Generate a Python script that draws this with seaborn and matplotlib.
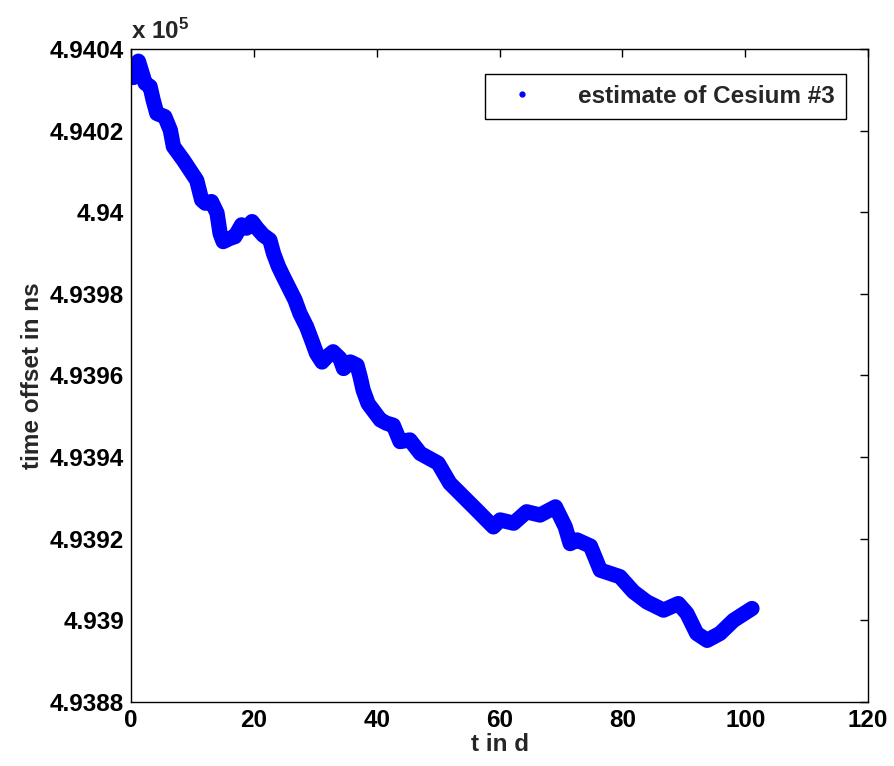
import numpy as np
import pandas as pd
import matplotlib
matplotlib.use("Agg")
import matplotlib.pyplot as plt
from matplotlib.lines import Line2D
import seaborn as sns

# data (t in days, time offset in ns)
t_days = [0.4, 0.9, 1.2, 2.3, 3.1, 3.6, 4.2, 5.5, 6.4, 6.9, 8.5, 9.6, 10.7, 11.5,
          12.1, 13.1, 14.0, 14.5, 15.0, 16.1, 16.9, 18.0, 18.8, 19.7, 20.5, 21.5,
          22.6, 23.2, 24.0, 24.8, 25.9, 26.7, 27.5, 28.6, 29.4, 30.2, 31.1, 31.9,
          32.9, 34.0, 34.6, 35.7, 36.8, 37.3, 37.8, 38.6, 40.0, 40.6, 41.6, 42.7,
          43.8, 45.4, 47.1, 50.0, 51.9, 54.1, 56.3, 59.0, 60.1, 62.3, 64.4, 66.6,
          69.1, 70.7, 71.5, 72.6, 74.8, 76.4, 79.6, 81.8, 84.0, 86.7, 89.1, 90.5,
          92.1, 93.8, 95.9, 98.1, 101.1]
offset_ns = [494033.0, 494035.7, 494037.0, 494031.6, 494030.8, 494027.5, 494024.2,
             494023.4, 494020.1, 494016.1, 494012.8, 494010.3, 494007.8, 494003.0,
             494002.2, 494002.6, 493999.8, 493994.8, 493992.8, 493993.6, 493994.0,
             493996.9, 493996.1, 493997.7, 493996.1, 493994.4, 493993.2, 493989.9,
             493986.7, 493984.2, 493980.9, 493978.5, 493975.2, 493971.9, 493968.7,
             493965.4, 493963.3, 493964.6, 493965.8, 493964.2, 493961.7, 493963.3,
             493962.5, 493959.7, 493956.4, 493953.1, 493950.3, 493949.1, 493948.3,
             493947.8, 493943.8, 493944.2, 493940.9, 493938.5, 493933.6, 493930.3,
             493927.0, 493922.9, 493924.6, 493923.8, 493926.6, 493925.8, 493927.8,
             493922.9, 493918.8, 493919.7, 493918.2, 493912.3, 493910.7, 493907.0,
             493904.5, 493902.5, 493904.1, 493901.7, 493896.8, 493895.1, 493896.8,
             493900.0, 493902.9]
series_label = "estimate of Cesium #3"
x_ticks = [0, 20, 40, 60, 80, 100, 120]
y_ticks = [493880, 493900, 493920, 493940, 493960, 493980, 494000, 494020, 494040]

df = pd.DataFrame({"t": t_days, "offset": offset_ns})

sns.set_style("white")
plt.rcParams["font.family"] = ["Liberation Sans", "DejaVu Sans"]
plt.rcParams["font.weight"] = "bold"
plt.rcParams["mathtext.fontset"] = "custom"
plt.rcParams["mathtext.rm"] = "Liberation Sans:bold"
plt.rcParams["mathtext.bf"] = "Liberation Sans:bold"
plt.rcParams["mathtext.default"] = "bf"

fig = plt.figure(figsize=(8.95, 7.66), dpi=100)
ax = fig.add_axes([0.1464, 0.0836, 0.8235, 0.8525])

blue = "#0000FF"
sns.lineplot(data=df, x="t", y="offset", ax=ax, color=blue, lw=11,
             solid_joinstyle="round", solid_capstyle="round", sort=False,
             marker=".", markersize=14, markeredgecolor=blue, legend=False)

ax.set_xlim(0, 120)
ax.set_ylim(493880, 494040)
ax.set_xticks(x_ticks)
ax.set_xticklabels([str(v) for v in x_ticks])
ax.set_yticks(y_ticks)
ax.set_yticklabels([f"{v/1e5:g}" for v in y_ticks])

fs = 17.5
ax.tick_params(direction="in", length=6, width=1, top=True, right=True,
               labelsize=fs, pad=5, colors="black")
for lab in ax.get_xticklabels() + ax.get_yticklabels():
    lab.set_fontweight("bold")
for sp in ax.spines.values():
    sp.set_color("black")
    sp.set_linewidth(1)

ax.set_xlabel("t in d", fontsize=fs, fontweight="bold", labelpad=1)
ax.set_ylabel("time offset in ns", fontsize=fs, fontweight="bold", labelpad=4)

ax.text(0.0, 1.008, r"x 10$^{5}$", transform=ax.transAxes, fontsize=fs,
        fontweight="bold", ha="left", va="bottom")

handle = Line2D([], [], color=blue, marker=".", linestyle="none", markersize=7)
leg = ax.legend([handle], [series_label], loc="upper right",
                bbox_to_anchor=(0.97, 0.962), fancybox=False, framealpha=1,
                edgecolor="black", prop={"size": fs, "weight": "bold"},
                handlelength=2.2, borderpad=0.45, handletextpad=1.2,
                borderaxespad=0)
leg.get_frame().set_linewidth(1)

fig.savefig("out.png", dpi=100)
